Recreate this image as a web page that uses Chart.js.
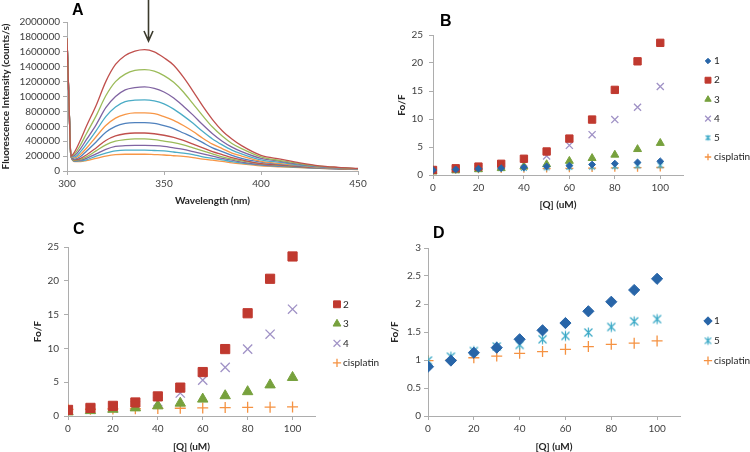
<!DOCTYPE html>
<html>
<head>
<meta charset="utf-8">
<script src="https://cdn.jsdelivr.net/npm/chart.js@4.4.0/dist/chart.umd.min.js"></script>
<style>
  body { margin: 0; background: #fff; width: 750px; height: 452px; overflow: hidden; position: relative; }
  canvas { position: absolute; }
  .tag { position: absolute; font: bold 16px/16px "Liberation Sans", Arial, sans-serif; color: #000; }
</style>
</head>
<body>
<canvas id="chartA" width="378" height="215" style="left:0;top:0"></canvas>
<canvas id="chartB" width="370" height="215" style="left:380px;top:0"></canvas>
<canvas id="chartC" width="380" height="245" style="left:0;top:215px"></canvas>
<canvas id="chartD" width="370" height="245" style="left:380px;top:215px"></canvas>
<div class="tag" style="left:72px;top:2px">A</div>
<div class="tag" style="left:440px;top:13px">B</div>
<div class="tag" style="left:73px;top:221px">C</div>
<div class="tag" style="left:433px;top:225px">D</div>
<script>
// Panel A: emission spectra, one array per titration step (counts/s)
const wavelengths = [300, 301, 302, 304, 307, 310, 315, 320, 325, 330, 335, 340, 345, 350, 355, 360, 365, 370, 375, 380, 385, 390, 400, 410, 420, 430, 440, 450];
const spec1 = [1780000, 950000, 200000, 260000, 420000, 600000, 880000, 1200000, 1430000, 1550000, 1610000, 1630000, 1600000, 1520000, 1420000, 1260000, 1070000, 870000, 690000, 540000, 430000, 340000, 210000, 160000, 110000, 70000, 50000, 35000];
const spec2 = [1780000, 950000, 200000, 230000, 350000, 500000, 740000, 1010000, 1200000, 1300000, 1350000, 1360000, 1340000, 1280000, 1190000, 1060000, 900000, 740000, 590000, 470000, 370000, 300000, 190000, 140000, 100000, 65000, 45000, 32000];
const spec3 = [1780000, 950000, 200000, 210000, 300000, 420000, 620000, 850000, 1000000, 1090000, 1120000, 1130000, 1110000, 1060000, 980000, 870000, 750000, 620000, 500000, 400000, 320000, 260000, 170000, 130000, 90000, 60000, 42000, 30000];
const spec4 = [1780000, 950000, 200000, 190000, 260000, 360000, 540000, 730000, 860000, 930000, 950000, 955000, 940000, 900000, 830000, 740000, 640000, 530000, 430000, 350000, 280000, 230000, 150000, 115000, 80000, 55000, 40000, 28000];
const spec5 = [1780000, 950000, 200000, 175000, 225000, 305000, 460000, 610000, 710000, 760000, 780000, 780000, 770000, 730000, 680000, 610000, 530000, 440000, 360000, 300000, 240000, 200000, 130000, 100000, 75000, 50000, 37000, 26000];
const spec6 = [1780000, 950000, 200000, 160000, 195000, 265000, 390000, 520000, 600000, 640000, 650000, 650000, 640000, 610000, 570000, 510000, 450000, 380000, 310000, 260000, 210000, 170000, 120000, 90000, 68000, 47000, 35000, 25000];
const spec7 = [1780000, 950000, 200000, 150000, 170000, 215000, 310000, 410000, 470000, 500000, 510000, 510000, 500000, 480000, 450000, 410000, 360000, 310000, 260000, 220000, 180000, 150000, 100000, 80000, 60000, 44000, 33000, 24000];
const spec8 = [1780000, 950000, 200000, 140000, 155000, 190000, 270000, 350000, 400000, 420000, 430000, 430000, 420000, 400000, 380000, 350000, 310000, 270000, 230000, 190000, 160000, 135000, 95000, 75000, 56000, 42000, 32000, 23000];
const spec9 = [1780000, 950000, 200000, 135000, 145000, 170000, 230000, 290000, 330000, 340000, 345000, 345000, 340000, 330000, 310000, 290000, 260000, 230000, 200000, 170000, 145000, 120000, 85000, 68000, 52000, 40000, 30000, 22000];
const spec10 = [1780000, 950000, 200000, 130000, 135000, 150000, 200000, 240000, 270000, 280000, 280000, 280000, 275000, 270000, 255000, 240000, 220000, 190000, 170000, 150000, 125000, 105000, 78000, 62000, 48000, 37000, 28000, 21000];
const spec11 = [1780000, 950000, 200000, 125000, 125000, 140000, 170000, 200000, 220000, 225000, 225000, 225000, 220000, 215000, 205000, 195000, 180000, 160000, 145000, 130000, 110000, 95000, 70000, 57000, 45000, 35000, 27000, 20000];
const spectra = [spec1, spec2, spec3, spec4, spec5, spec6, spec7, spec8, spec9, spec10, spec11];
const specColors = ['#C0504D', '#9BBB59', '#8064A2', '#4BACC6', '#F79646', '#4F81BD', '#C0504D', '#9BBB59', '#8064A2', '#4BACC6', '#F79646'];

// Panels B-D: Fo/F against quencher concentration
const qConc = [0, 10, 20, 30, 40, 50, 60, 70, 80, 90, 100];
const fo1 = [0.88, 0.99, 1.13, 1.22, 1.37, 1.53, 1.66, 1.87, 2.04, 2.25, 2.45];
const fo2 = [0.9, 1.2, 1.5, 2.0, 2.9, 4.2, 6.5, 9.9, 15.2, 20.3, 23.6];
const fo3 = [0.6, 0.8, 1.0, 1.2, 1.5, 1.9, 2.5, 3.0, 3.6, 4.6, 5.7];
const fo4 = [0.9, 1.0, 1.2, 1.5, 2.1, 3.4, 5.3, 7.2, 9.9, 12.1, 15.8];
const fo5 = [0.99, 1.06, 1.16, 1.24, 1.27, 1.37, 1.43, 1.49, 1.59, 1.69, 1.73];
const foCis = [0.99, 1.0, 1.04, 1.07, 1.12, 1.15, 1.19, 1.24, 1.28, 1.30, 1.34];

Chart.defaults.font.family = 'Lato, sans-serif';
Chart.defaults.color = '#404040';

const axisGray = '#ADADAD';
const titleFont = { size: 10, weight: 'bold' };
const tickFont = { size: 10 };

function xAxis(min, max, step, text, height, titlePad) {
    return {
        type: 'linear', min: min, max: max,
        afterFit: s => { s.height = height; },
        border: { color: axisGray },
        grid: { drawOnChartArea: false, drawTicks: true, tickLength: 4, color: axisGray },
        ticks: { stepSize: step, includeBounds: false, autoSkip: false, font: tickFont, padding: 3, maxRotation: 0,
                 callback: v => String(v) },
        title: { display: true, text: text, font: titleFont, color: '#262626', padding: { bottom: titlePad } }
    };
}

function yAxis(min, max, step, text, width, titlePad, tickPad) {
    return {
        min: min, max: max,
        afterFit: s => { s.width = width; },
        border: { color: axisGray },
        grid: { drawOnChartArea: false, drawTicks: true, tickLength: 4, color: axisGray },
        ticks: { stepSize: step, autoSkip: false, font: tickFont, padding: tickPad, callback: v => String(v) },
        title: { display: true, text: text, font: titleFont, color: '#262626', padding: { top: titlePad } }
    };
}

// Excel style asterisk marker: an X with a vertical bar
function asterisk(r, color) {
    const c = document.createElement('canvas');
    const size = Math.ceil(2 * r + 3);
    c.width = size; c.height = size;
    const g = c.getContext('2d');
    const m = size / 2, d = r * 0.8;
    g.strokeStyle = color;
    g.lineWidth = 1.2;
    g.beginPath();
    g.moveTo(m, m - r); g.lineTo(m, m + r);
    g.moveTo(m - d, m - d); g.lineTo(m + d, m + d);
    g.moveTo(m - d, m + d); g.lineTo(m + d, m - d);
    g.stroke();
    return c;
}

// legend drawn beside the plot at fixed spots
const sideLegend = {
    id: 'sideLegend',
    afterDraw(chart, args, opts) {
        const ctx = chart.ctx;
        ctx.save();
        chart.data.datasets.forEach((ds, i) => {
            const y = opts.y + i * opts.step;
            ctx.fillStyle = ds.backgroundColor;
            ctx.strokeStyle = ds.borderColor;
            ctx.lineWidth = ds.pointBorderWidth;
            Chart.helpers.drawPoint(ctx, {
                pointStyle: ds.legendStyle || ds.pointStyle, rotation: 0,
                radius: ds.pointRadius * opts.scale, borderWidth: ds.pointBorderWidth
            }, opts.x, y);
            ctx.fillStyle = '#262626';
            ctx.font = '10px Lato, sans-serif';
            ctx.textBaseline = 'middle';
            ctx.textAlign = 'left';
            ctx.fillText(ds.label, opts.x + 6, y);
        });
        ctx.restore();
    }
};

// arrow above the spectra maximum
const peakArrow = {
    id: 'peakArrow',
    afterDraw(chart) {
        const ctx = chart.ctx;
        const x = Math.round(chart.scales.x.getPixelForValue(341.5)) + 0.5;
        ctx.save();
        ctx.strokeStyle = '#3B3A2C';
        ctx.lineWidth = 1.6;
        ctx.beginPath();
        ctx.moveTo(x, 0);
        ctx.lineTo(x, 41);
        ctx.moveTo(x - 4.5, 31);
        ctx.lineTo(x, 41);
        ctx.lineTo(x + 4.5, 31);
        ctx.stroke();
        ctx.restore();
    }
};

function series(label, values, style, color, radius) {
    const cross = style === 'cross' || style === 'crossRot';
    const ds = {
        label: label,
        data: qConc.map((q, i) => ({ x: q, y: values[i] })),
        showLine: false,
        pointStyle: style,
        pointRadius: radius,
        pointHoverRadius: radius,
        pointBorderWidth: cross ? 1.3 : 1,
        backgroundColor: color,
        borderColor: color
    };
    if (style === 'asterisk') {
        ds.pointStyle = asterisk(radius, color);
        ds.legendStyle = asterisk(radius * 0.8, color);
    }
    return ds;
}

const colors = { s1: '#2865A8', s2: '#C0392F', s3: '#77A13D', s4: '#A092C6', s5: '#3AA9C6', cis: '#F59242' };

// A
new Chart(document.getElementById('chartA'), {
    type: 'line',
    data: {
        datasets: spectra.map((vals, i) => ({
            label: 'step ' + (i + 1),
            data: wavelengths.map((w, j) => ({ x: w, y: vals[j] })),
            borderColor: specColors[i],
            borderWidth: 1.3,
            pointRadius: 0,
            cubicInterpolationMode: 'monotone',
            fill: false
        }))
    },
    options: {
        responsive: false, animation: false,
        layout: { padding: { left: 0, right: 20, top: 22, bottom: 0 } },
        plugins: { legend: { display: false }, tooltip: { enabled: false } },
        scales: {
            x: xAxis(300, 450, 50, 'Wavelength (nm)', 44, 8),
            y: yAxis(0, 2000000, 200000, 'Fluorescence Intensity (counts/s)', 67, 0, 3)
        }
    },
    plugins: [peakArrow]
});

// B
new Chart(document.getElementById('chartB'), {
    type: 'scatter',
    data: {
        datasets: [
            series('1', fo1, 'rectRot', colors.s1, 3.4),
            series('2', fo2, 'rect', colors.s2, 5.2),
            series('3', fo3, 'triangle', colors.s3, 4.6),
            series('4', fo4, 'crossRot', colors.s4, 5),
            series('5', fo5, 'asterisk', colors.s5, 3.5),
            series('cisplatin', foCis, 'cross', colors.cis, 4)
        ]
    },
    options: {
        responsive: false, animation: false,
        layout: { padding: { left: 0, right: 67, top: 35, bottom: 0 } },
        plugins: { legend: { display: false }, tooltip: { enabled: false },
                   sideLegend: { x: 328, y: 61, step: 19.2, scale: 0.8 } },
        scales: {
            x: xAxis(0, 110, 20, '[Q] (uM)', 40, 4),
            y: yAxis(0, 25, 5, 'Fo/F', 53, 16, 6)
        }
    },
    plugins: [sideLegend]
});

// C
new Chart(document.getElementById('chartC'), {
    type: 'scatter',
    data: {
        datasets: [
            series('2', fo2, 'rect', colors.s2, 6.5),
            series('3', fo3, 'triangle', colors.s3, 6),
            series('4', fo4, 'crossRot', colors.s4, 6.5),
            series('cisplatin', foCis, 'cross', colors.cis, 5.5)
        ]
    },
    options: {
        responsive: false, animation: false,
        layout: { padding: { left: 0, right: 65, top: 32, bottom: 0 } },
        plugins: { legend: { display: false }, tooltip: { enabled: false },
                   sideLegend: { x: 337, y: 89.3, step: 19.5, scale: 0.75 } },
        scales: {
            x: xAxis(0, 110, 20, '[Q] (uM)', 44, 7),
            y: yAxis(0, 25, 5, 'Fo/F', 68, 32, 5)
        }
    },
    plugins: [sideLegend]
});

// D
new Chart(document.getElementById('chartD'), {
    type: 'scatter',
    data: {
        datasets: [
            series('1', fo1, 'rectRot', colors.s1, 5.6),
            series('5', fo5, 'asterisk', colors.s5, 5),
            series('cisplatin', foCis, 'cross', colors.cis, 5.5)
        ]
    },
    options: {
        responsive: false, animation: false,
        layout: { padding: { left: 0, right: 70, top: 33, bottom: 0 } },
        plugins: { legend: { display: false }, tooltip: { enabled: false },
                   sideLegend: { x: 328, y: 106, step: 19.8, scale: 0.75 } },
        scales: {
            x: xAxis(0, 110, 20, '[Q] (uM)', 44, 7),
            y: yAxis(0, 3, 0.5, 'Fo/F', 48, 9, 3)
        }
    },
    plugins: [sideLegend]
});
</script>
</body>
</html>
